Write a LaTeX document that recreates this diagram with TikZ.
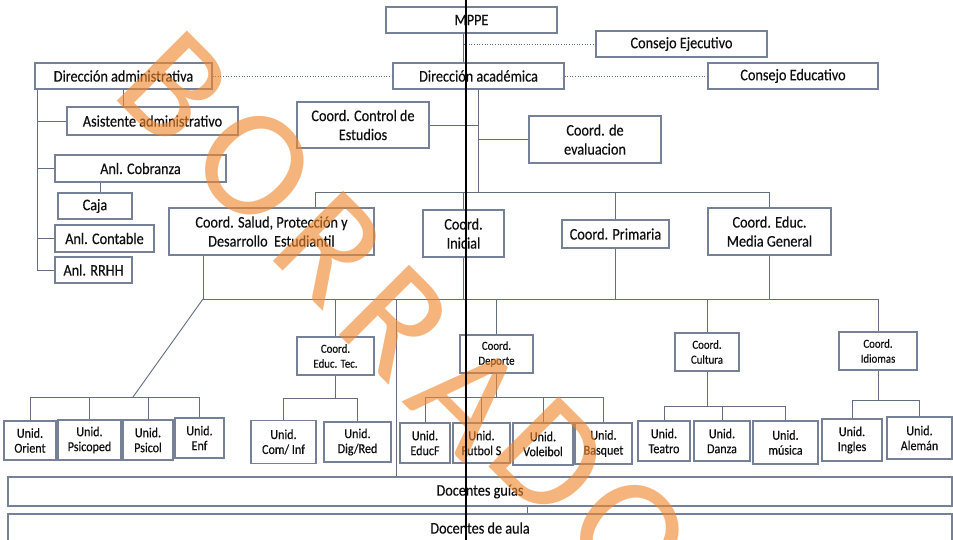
\documentclass[tikz,border=0pt]{standalone}
\usepackage{fontspec}
\setmainfont{Carlito}[FakeStretch=0.88, FakeBold=0.35]
\newfontfamily\stampfont{Carlito}
\usepackage{tikz}
\usetikzlibrary{calc}

\definecolor{framegray}{RGB}{118,128,150}
\definecolor{linkgray}{RGB}{100,110,130}
\definecolor{inkgray}{RGB}{15,15,15}
\definecolor{stamporange}{RGB}{240,135,45}

\begin{document}
\begin{tikzpicture}[x=0.02cm, y=-0.02cm,
		box/.style={draw=framegray, line width=0.6pt, fill=white, align=center, inner sep=0pt, text=inkgray, font=\fontsize{9.2}{10.8}\selectfont},
		unitbox/.style={box, font=\fontsize{7.8}{8.5}\selectfont},
		smallbox/.style={box, font=\fontsize{7}{8.5}\selectfont},
		size/.style 2 args={minimum width=#1*0.02cm, minimum height=#2*0.02cm},
		link/.style={draw=linkgray, line width=0.5pt},
		dots/.style={draw=linkgray, line width=0.5pt, densely dotted},
		stamp/.style={text=stamporange, opacity=0.62, inner sep=0pt, rotate=-45, font=\stampfont\fontsize{88}{88}\selectfont}]
			\coordinate (topleft) at (0, 0);
			\coordinate (bottomright) at (953, 540);
			
			\clip (topleft) rectangle (bottomright);
			\fill[white] (topleft) rectangle (bottomright);
			
			% upper levels
			\node[box, size={171}{26}] (mppe) at (471.5, 20) {MPPE};
			\node[box, size={171}{26}] (cejec) at (681.5, 44) {Consejo Ejecutivo};
			\node[box, size={177}{26}] (dadm) at (123.5, 76) {Dirección administrativa};
			\node[box, size={171}{26}] (dacad) at (478.5, 76) {Dirección académica};
			\node[box, size={170}{26}] (cedu) at (793, 76) {Consejo Educativo};
			
			% administrative branch
			\node[box, size={171}{28}] (asist) at (152.5, 121) {Asistente administrativo};
			\node[box, size={171}{27}] (cobr) at (140.5, 168.5) {Anl. Cobranza};
			\node[box, size={74}{26}] (caja) at (95, 206) {Caja};
			\node[box, size={99}{27}] (contab) at (104.5, 238.5) {Anl. Contable};
			\node[box, size={77}{26}] (rrhh) at (93.5, 270) {Anl. RRHH};
			
			% academic branch
			\node[box, size={132}{46}] (ccontrol) at (363, 125) {Coord. Control de\\Estudios};
			\node[box, size={132}{47}] (ceval) at (595, 139.5) {Coord. de\\evaluacion};
			\node[box, size={205}{47}] (csalud) at (271.5, 231.5) {Coord. Salud, Protección y\\Desarrollo\ \ Estudiantil};
			\node[box, size={81}{47}] (cinicial) at (463.5, 233.5) {Coord.\\Inicial};
			\node[box, size={107}{28}] (cprim) at (615.5, 234) {Coord. Primaria};
			\node[box, size={123}{47}] (cmedia) at (769.5, 231.5) {Coord. Educ.\\Media General};
			
			\node[smallbox, size={77}{38}] (ctec) at (335.5, 356) {Coord.\\Educ. Tec.};
			\node[smallbox, size={73}{38}] (cdep) at (496.5, 354) {Coord.\\Deporte};
			\node[smallbox, size={64}{38}] (ccult) at (707, 352) {Coord.\\Cultura};
			\node[smallbox, size={78}{38}] (cidio) at (878, 351) {Coord.\\Idiomas};
			
			% units
			\node[unitbox, size={52}{39}] (uorient) at (30, 440.5) {Unid.\\Orient};
			\node[unitbox, size={63}{40}] (upsicoped) at (89.5, 440) {Unid.\\Psicoped};
			\node[unitbox, size={50}{40}] (upsicol) at (148, 440) {Unid.\\Psicol};
			\node[unitbox, size={49}{40}] (uenf) at (199.5, 438) {Unid.\\Enf};
			\node[unitbox, size={65}{43}] (ucom) at (283.5, 442) {Unid.\\Com/ Inf};
			\node[unitbox, size={67}{40}] (udig) at (357.5, 442) {Unid.\\Dig/Red};
			\node[unitbox, size={50}{40}] (ueducf) at (425, 443) {Unid.\\EducF};
			\node[unitbox, size={57}{40}] (ufutbol) at (481.5, 443) {Unid.\\Futbol S};
			\node[unitbox, size={60}{42}] (uvolei) at (543, 444) {Unid.\\Voleibol};
			\node[unitbox, size={57}{41}] (ubasq) at (603.5, 443.5) {Unid.\\Basquet};
			\node[unitbox, size={52}{40}] (uteatro) at (664, 441) {Unid.\\Teatro};
			\node[unitbox, size={56}{40}] (udanza) at (722, 441) {Unid.\\Danza};
			\node[unitbox, size={65}{43}] (umusica) at (785.5, 442.5) {Unid.\\música};
			\node[unitbox, size={60}{42}] (uingles) at (852, 440) {Unid.\\Ingles};
			\node[unitbox, size={65}{42}] (ualeman) at (919.5, 438) {Unid.\\Alemán};
			
			% teachers
			\node[box, size={944}{29}] (dguias) at (480, 491.5) {Docentes guías};
			\node[box, size={944}{28}] (daula) at (480, 528) {Docentes de aula};
			
			% top connectors
			\draw[link] (mppe.south) ++(-8, 0) coordinate (mstem) -- (mstem |- dacad.north);
			\draw[dots] (mstem |- cejec.west) -- (cejec.west);
			\draw[dots] (dadm.east) -- (dacad.west);
			\draw[dots] (dacad.east) -- (cedu.west);
			
			\draw[link] (dadm.south west) ++(3, 0) coordinate (aspine) -- (aspine |- rrhh.west) -- (rrhh.west);
			\draw[link] (aspine |- asist.west) -- (asist.west);
			\draw[link] (aspine |- cobr.west) -- (cobr.west);
			\draw[link] (aspine |- contab.west) -- (contab.west);
			\draw[link] (dadm.south) -- (dadm.south |- asist.north);
			\draw[link] (caja.north) ++(5, 0) coordinate (cstem) -- (cstem |- cobr.south);
			
			\draw[link] (dacad.south) -- ++(0, 103) coordinate (abus);
			\draw[link] (ccontrol.east) -- (ccontrol.east -| abus);
			\draw[link] (ceval.west) -- (ceval.west -| abus);
			
			\coordinate (bleft) at (315, 192);
			\draw[link] (bleft |- csalud.north) -- (bleft) -- (bleft -| cmedia.north) -- (cmedia.north);
			\draw[link] (cinicial.north) -- (cinicial.north |- bleft);
			\draw[link] (cprim.north) -- (cprim.north |- bleft);
			
			% lower bus
			\coordinate (sdrop) at (203, 299);
			\draw[link] (sdrop |- csalud.south) -- (sdrop) -- (sdrop -| cidio.north) -- (cidio.north);
			\draw[link] (cinicial.south) -- (cinicial.south |- sdrop);
			\draw[link] (cprim.south) -- (cprim.south |- sdrop);
			\draw[link] (cmedia.south) -- (cmedia.south |- sdrop);
			\draw[link] (ctec.north) -- (ctec.north |- sdrop);
			\draw[link] (cdep.north) -- (cdep.north |- sdrop);
			\draw[link] (ccult.north) -- (ccult.north |- sdrop);
			\coordinate (gdrop) at (396, 299);
			\draw[link] (gdrop) -- (gdrop |- dguias.north);
			
			% unit groups
			\coordinate (sgrp) at (133, 397);
			\draw[link] (sdrop) -- (sgrp);
			\draw[link] (uorient.north) -- (uorient.north |- sgrp) -- (uenf.north |- sgrp) -- (uenf.north);
			\draw[link] (upsicoped.north) -- (upsicoped.north |- sgrp);
			\draw[link] (upsicol.north) -- (upsicol.north |- sgrp);
			
			\draw[link] (ctec.south) -- ++(0, 23) coordinate (tgrp);
			\draw[link] (ucom.north) -- (ucom.north |- tgrp) -- (udig.north |- tgrp) -- (udig.north);
			
			\draw[link] (cdep.south) -- ++(0, 24) coordinate (dgrp);
			\draw[link] (ueducf.north) -- (ueducf.north |- dgrp) -- (ubasq.north |- dgrp) -- (ubasq.north);
			\draw[link] (ufutbol.north) -- (ufutbol.north |- dgrp);
			\draw[link] (uvolei.north) -- (uvolei.north |- dgrp);
			
			\draw[link] (ccult.south) -- ++(0, 35) coordinate (kgrp);
			\draw[link] (uteatro.north) -- (uteatro.north |- kgrp) -- (umusica.north |- kgrp) -- (umusica.north);
			\draw[link] (udanza.north) -- (udanza.north |- kgrp);
			
			\draw[link] (cidio.south) -- ++(0, 30) coordinate (igrp);
			\draw[link] (uingles.north) -- (uingles.north |- igrp) -- (ualeman.north |- igrp) -- (ualeman.north);
			
			\draw[link] (dguias.south) ++(47, 0) coordinate (gstem) -- (gstem |- daula.north);
			
			% watermark
			\node[stamp] (w1) at (174, 88) {B};
			\node[stamp] (w2) at (255, 166) {O};
			\node[stamp] (w3) at (330, 248) {R};
			\node[stamp] (w4) at (396, 322) {R};
			\node[stamp] (w5) at (468, 398) {A};
			\node[stamp] (w6) at (550, 458) {D};
			\node[stamp] (w7) at (630, 535) {O};
			
			\draw[line width=1.4pt] (466, 0) -- (466, 540);
			
		\end{tikzpicture}
\end{document}
